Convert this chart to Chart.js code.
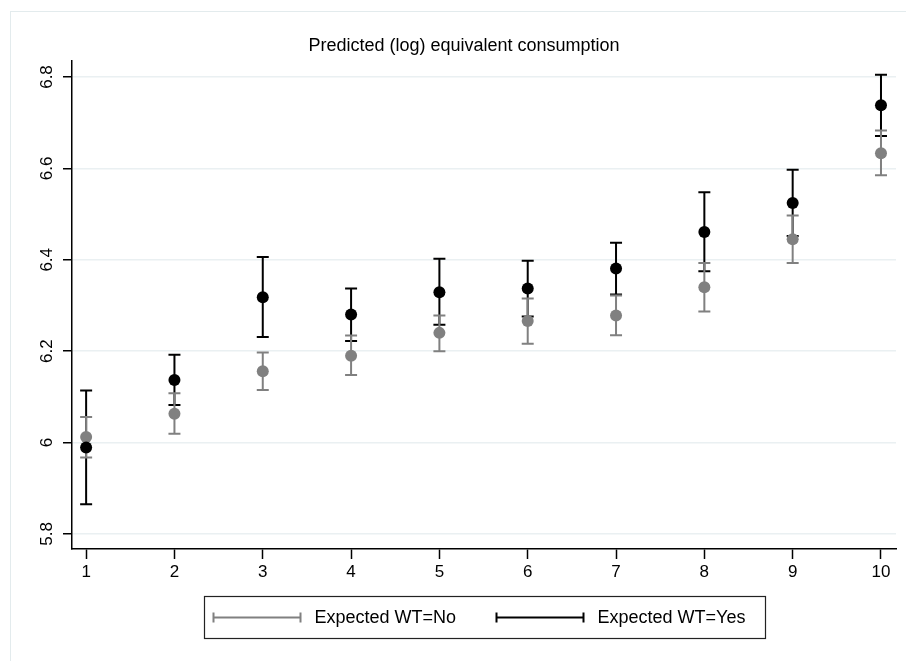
<!DOCTYPE html>
<html>
<head>
<meta charset="utf-8">
<script src="https://cdn.jsdelivr.net/npm/chart.js@4"></script>
<style>
  html, body { margin: 0; padding: 0; background: #fff; }
  canvas { display: block; }
</style>
</head>
<body>
<canvas id="grafica" width="906" height="661"></canvas>
<script>
// Categorias del eje x y etiquetas del eje y
const grupos = [1, 2, 3, 4, 5, 6, 7, 8, 9, 10];
const yTicks = [5.8, 6.0, 6.2, 6.4, 6.6, 6.8];
const yTickLabels = ['5.8', '6', '6.2', '6.4', '6.6', '6.8'];

const titulo = 'Predicted (log) equivalent consumption';
const etiquetas = ['Expected WT=No', 'Expected WT=Yes'];

// Expected WT=No (gris)
const noMedia = [6.012, 6.063, 6.156, 6.190, 6.240, 6.266, 6.278, 6.340, 6.445, 6.633];
const noBajo  = [5.967, 6.019, 6.115, 6.148, 6.200, 6.216, 6.235, 6.287, 6.393, 6.585];
const noAlto  = [6.056, 6.108, 6.197, 6.234, 6.278, 6.315, 6.322, 6.393, 6.497, 6.683];

// Expected WT=Yes (negro)
const siMedia = [5.989, 6.137, 6.318, 6.280, 6.329, 6.337, 6.381, 6.461, 6.524, 6.738];
const siBajo  = [5.865, 6.082, 6.231, 6.222, 6.258, 6.276, 6.324, 6.375, 6.452, 6.671];
const siAlto  = [6.114, 6.192, 6.406, 6.337, 6.402, 6.398, 6.437, 6.548, 6.597, 6.805];

const gris = '#808080';
const negro = '#000000';

function puntos(valores) {
    return grupos.map((g, i) => ({ x: g, y: valores[i] }));
}

// barras de error, dibujadas con las escalas del grafico
function dibujarBarras(chart, bajo, alto, color) {
    const ctx = chart.ctx;
    const sx = chart.scales.x;
    const sy = chart.scales.y;
    ctx.save();
    ctx.strokeStyle = color;
    ctx.lineWidth = 2;
    for (let i = 0; i < grupos.length; i++) {
        const x = sx.getPixelForValue(grupos[i]);
        const y1 = sy.getPixelForValue(bajo[i]);
        const y2 = sy.getPixelForValue(alto[i]);
        ctx.beginPath();
        ctx.moveTo(x, y1);
        ctx.lineTo(x, y2);
        ctx.moveTo(x - 6, y1);
        ctx.lineTo(x + 6, y1);
        ctx.moveTo(x - 6, y2);
        ctx.lineTo(x + 6, y2);
        ctx.stroke();
    }
    ctx.restore();
}

function simboloLeyenda(ctx, x1, x2, y, color) {
    ctx.strokeStyle = color;
    ctx.lineWidth = 2;
    ctx.beginPath();
    ctx.moveTo(x1, y);
    ctx.lineTo(x2, y);
    ctx.moveTo(x1, y - 5);
    ctx.lineTo(x1, y + 5);
    ctx.moveTo(x2, y - 5);
    ctx.lineTo(x2, y + 5);
    ctx.stroke();
}

const estiloStata = {
    id: 'estiloStata',
    beforeDraw(chart) {
        const ctx = chart.ctx;
        ctx.save();
        ctx.fillStyle = '#ffffff';
        ctx.fillRect(0, 0, chart.width, chart.height);
        ctx.strokeStyle = '#e3ebed';
        ctx.lineWidth = 1;
        ctx.strokeRect(10.5, 11.5, chart.width, chart.height);
        ctx.restore();
    },
    beforeDatasetsDraw(chart) {
        dibujarBarras(chart, siBajo, siAlto, negro);
        dibujarBarras(chart, noBajo, noAlto, gris);
    },
    afterDraw(chart) {
        const ctx = chart.ctx;
        const area = chart.chartArea;
        ctx.save();
        // titulo
        ctx.fillStyle = '#000';
        ctx.font = '18px "Liberation Sans", Arial, sans-serif';
        ctx.textAlign = 'center';
        ctx.textBaseline = 'middle';
        ctx.fillText(titulo, 464, 46);

        // leyenda con borde
        const cx = (area.left + area.right) / 2;
        const ancho = 561, alto = 42;
        const lx = Math.round(cx - ancho / 2) + 0.5;
        const ly = 596.5;
        ctx.strokeStyle = '#222';
        ctx.lineWidth = 1.2;
        ctx.strokeRect(lx, ly, ancho, alto);
        const ym = ly + alto / 2;
        ctx.textAlign = 'left';
        simboloLeyenda(ctx, lx + 9, lx + 96, ym, gris);
        ctx.fillStyle = '#000';
        ctx.fillText(etiquetas[0], lx + 110, ym + 1);
        simboloLeyenda(ctx, lx + 292, lx + 379, ym, negro);
        ctx.fillText(etiquetas[1], lx + 393, ym + 1);
        ctx.restore();
    }
};

const fuenteTicks = { family: '"Liberation Sans", Arial, sans-serif', size: 17 };

const config = {
    type: 'scatter',
    data: {
        datasets: [
            {
                label: etiquetas[0],
                data: puntos(noMedia),
                backgroundColor: gris,
                borderWidth: 0,
                pointRadius: 6,
                pointHoverRadius: 6,
                order: 2
            },
            {
                label: etiquetas[1],
                data: puntos(siMedia),
                backgroundColor: negro,
                borderWidth: 0,
                pointRadius: 6,
                pointHoverRadius: 6,
                order: 1
            }
        ]
    },
    options: {
        responsive: false,
        animation: false,
        events: [],
        layout: { padding: { top: 61, right: 10, bottom: 72, left: 0 } },
        plugins: {
            legend: { display: false },
            title: { display: false },
            tooltip: { enabled: false }
        },
        scales: {
            x: {
                type: 'linear',
                min: 0.84,
                max: 10.17,
                afterBuildTicks: s => { s.ticks = grupos.map(v => ({ value: v })); },
                afterFit: s => { s.height = 40; },
                grid: { drawOnChartArea: false, tickColor: '#000', tickLength: 10, tickWidth: 1.5 },
                border: { color: '#000', width: 1.5 },
                ticks: { color: '#000', font: fuenteTicks, padding: 3, maxRotation: 0 }
            },
            y: {
                min: 5.767,
                max: 6.835,
                afterBuildTicks: s => { s.ticks = yTicks.map(v => ({ value: v })); },
                afterFit: s => { s.width = 72; },
                grid: { color: '#eaf0f2', lineWidth: 1.5, tickColor: '#000', tickLength: 9, tickWidth: 1.5 },
                border: { color: '#000', width: 1.5 },
                ticks: {
                    color: '#000',
                    font: fuenteTicks,
                    padding: 4,
                    minRotation: 90,
                    maxRotation: 90,
                    crossAlign: 'center',
                    callback: (v, i) => yTickLabels[i]
                }
            }
        }
    },
    plugins: [estiloStata]
};

const ChartPrincipal = new Chart(document.getElementById('grafica'), config);
</script>
</body>
</html>
